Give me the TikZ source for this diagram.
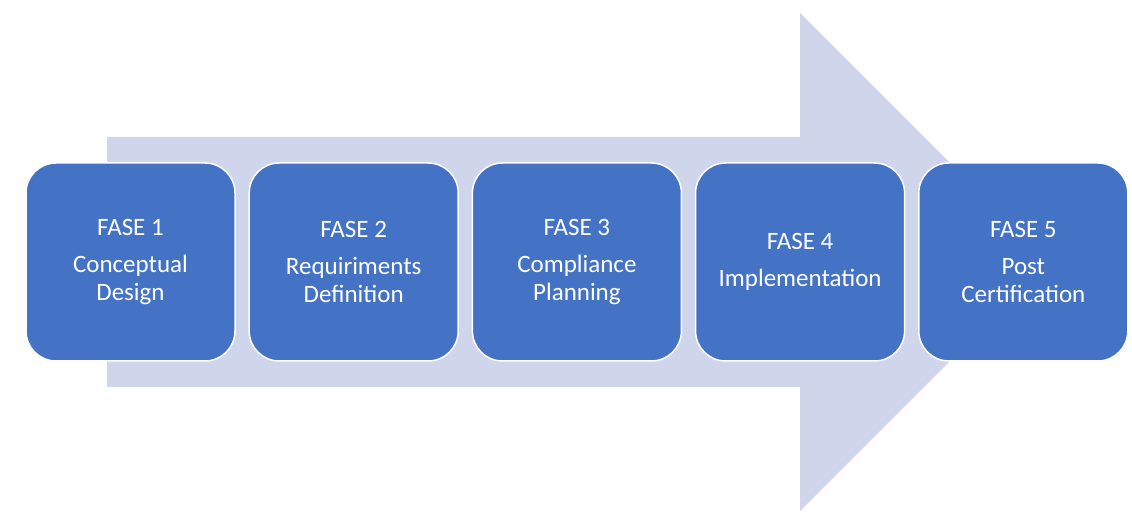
\documentclass[tikz,border=0pt]{standalone}
\usepackage{fontspec}
\setmainfont{Carlito}
\usepackage{tikz}
\usetikzlibrary{shapes,positioning}
\definecolor{phaseblue}{HTML}{4472C4}
\definecolor{arrowgrey}{HTML}{CFD5EA}
\tikzstyle{phase} = [draw=white, line width=1.5pt, fill=phaseblue, rectangle, rounded corners=30pt, minimum width=209pt, minimum height=198pt, text=white, align=center, font=\fontsize{25}{28}\selectfont]
\tikzstyle{bigarrow} = [fill=arrowgrey]

\begin{document}
\begin{tikzpicture}[x=1pt, y=1pt, node distance=223.2pt]
        \useasboundingbox (0,0) rectangle (1132,516);
        \fill[bigarrow] (107,129) -- (800,129) -- (800,5) -- (1049,254) -- (800,503) -- (800,379) -- (107,379) -- cycle;
        \node[phase] at (130.5,254) (fase1) {FASE 1\\[9pt]Conceptual\\Design};
        \node[phase, right of=fase1] (fase2) {FASE 2\\[9pt]Requiriments\\Definition};
        \node[phase, right of=fase2] (fase3) {FASE 3\\[9pt]Compliance\\Planning};
        \node[phase, right of=fase3] (fase4) {FASE 4\\[9pt]Implementation};
        \node[phase, right of=fase4] (fase5) {FASE 5\\[9pt]Post\\Certification};
    \end{tikzpicture}
\end{document}
